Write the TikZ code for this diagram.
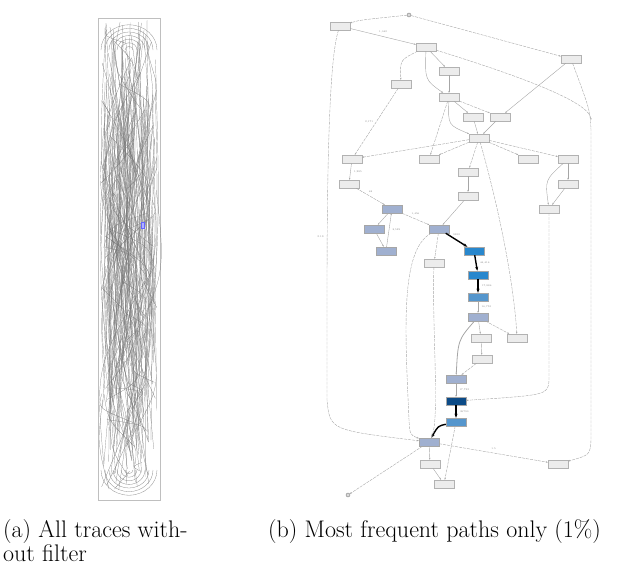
\documentclass[tikz,border=0pt]{standalone}
\usetikzlibrary{arrows.meta}
\begin{document}
\begin{tikzpicture}[x=1pt,y=-1pt,
 g/.style={draw=gray!60,fill=gray!15,minimum width=20pt,minimum height=8pt,inner sep=0pt},
 bg/.style={g,fill={rgb,255:red,160;green,176;blue,208},draw=gray!70},
 bb/.style={g,fill={rgb,255:red,40;green,135;blue,205},draw=gray!70},
 bl/.style={g,fill={rgb,255:red,85;green,150;blue,205},draw=gray!70},
 bd/.style={g,fill={rgb,255:red,12;green,75;blue,135},draw=gray!70},
 ci/.style={circle,draw=gray,fill=gray!30,minimum size=4pt,inner sep=0pt},
 e/.style={draw=gray!70,line width=0.4pt,-{Stealth[length=2pt]}},
 ed/.style={e,dash pattern=on 3pt off 1pt},
 eh/.style={draw=black,line width=1.4pt,-{Stealth[length=4pt]}},
 lb/.style={font=\fontsize{2.5}{3}\selectfont,text=gray},
 capt/.style={anchor=north west,align=left,font=\fontsize{24}{24}\selectfont,inner sep=0pt}]
\useasboundingbox (0,0) rectangle (640,568);
% ---------- panel (a)
\pgfmathsetseed{7}
\draw[gray!50,line width=0.4pt] (98,18) rectangle (160,500);
\foreach \i in {1,...,220}{
  \pgfmathsetmacro\ya{rnd*470+20}
  \pgfmathsetmacro\yb{rnd*470+20}
  \pgfmathsetmacro\xa{rnd*56+101}
  \pgfmathsetmacro\xb{rnd*56+101}
  \draw[black!55,line width=0.2pt] (\xa,\ya) .. controls (\xa+rnd*20-10,\ya*0.5+\yb*0.5) .. (\xb,\yb);
}
\foreach \r in {4,8,...,28}{
  \draw[black!45,line width=0.3pt] (129-\r,50) arc (180:360:\r pt and -\r*0.9 pt);
  \draw[black!45,line width=0.3pt] (129-\r,470) arc (180:0:\r pt and -\r*0.9 pt);
}
\node[draw=blue!60,fill=blue!30,minimum width=3pt,minimum height=6pt,inner sep=0pt] (ab) at (143,225) {};
% ---------- panel (b)
\node[ci] (st) at (409,15) {};
\node[ci] (en) at (348,495) {};
\node[g] (n1) at (340,26) {};
\node[g] (n2) at (426,47) {};
\node[g] (n3) at (571,59) {};
\node[g] (n4) at (449,71) {};
\node[g] (n5) at (401,84) {};
\node[g] (n6) at (449,97) {};
\node[g] (n7) at (473,117) {};
\node[g] (n8) at (500,117) {};
\node[g] (n9) at (479,138) {};
\node[g] (n10) at (352,159) {};
\node[g] (n11) at (429,159) {};
\node[g] (n12) at (528,159) {};
\node[g] (n13) at (568,159) {};
\node[g] (n14) at (468,172) {};
\node[g] (n15) at (349,184) {};
\node[g] (n16) at (568,184) {};
\node[g] (n17) at (468,196) {};
\node[g] (n18) at (549,209) {};
\node[bg] (b1) at (392,209) {};
\node[bg] (b2) at (374,229) {};
\node[bg] (b3) at (439,229) {};
\node[bg] (b4) at (386,251) {};
\node[bb] (c1) at (474,251) {};
\node[g] (n19) at (434,263) {};
\node[bb] (c2) at (478,275) {};
\node[bl] (c3) at (478,297) {};
\node[bg] (b5) at (478,317) {};
\node[g] (n20) at (481,338) {};
\node[g] (n21) at (517,338) {};
\node[g] (n22) at (482,359) {};
\node[bg] (b6) at (456,379) {};
\node[bd] (d1) at (456,401) {};
\node[bl] (c4) at (456,422) {};
\node[bg] (b7) at (429,442) {};
\node[g] (n23) at (430,464) {};
\node[g] (n24) at (558,464) {};
\node[g] (n25) at (444,484) {};
% edges
\draw[ed] (st) .. controls (360,20) .. (n1);
\draw[ed] (st) -- (n3);
\draw[e] (n1) -- node[lb,above]{1,043} (n2);
\draw[ed] (n2) .. controls (400,60) .. (n5);
\draw[e] (n2) -- (n4);
\draw[e] (n2) .. controls (425,80) .. (n6);
\draw[e] (n4) -- (n6);
\draw[ed] (n5) -- node[lb,left]{2,171} (n10);
\draw[e] (n6) -- (n7);
\draw[ed] (n6) -- (n8);
\draw[e] (n6) .. controls (448,125) .. (n9);
\draw[e] (n3) -- (n8);
\draw[e] (n7) -- (n9);
\draw[e] (n8) -- (n9);
\draw[ed] (n9) -- (n10);
\draw[ed] (n9) -- (n11);
\draw[ed] (n6) -- (n11);
\draw[ed] (n9) -- (n12);
\draw[ed] (n9) -- (n13);
\draw[ed] (n9) -- (n14);
\draw[e] (n14) -- (n17);
\draw[e] (n13) -- (n16);
\draw[e] (n10) -- node[lb,right]{1,285} (n15);
\draw[e] (n13) .. controls (545,180) .. (n18);
\draw[e] (n16) -- (n18);
\draw[ed] (n15) -- node[lb,above]{68} (b1);
\draw[e] (b1) -- (b2);
\draw[e] (b4) -- node[lb,right]{8,529} (b1);
\draw[e] (b2) -- (b4);
\draw[ed] (b1) -- node[lb,above]{1,456} (b3);
\draw[e] (n17) -- (b3);
\draw[eh] (b3) -- node[lb,above]{9953} (c1);
\draw[eh] (c1) -- node[lb,right]{44,416} (c2);
\draw[eh] (c2) -- node[lb,right]{17,886} (c3);
\draw[e,line width=0.8pt] (c3) -- node[lb,right]{16,755} (b5);
\draw[e] (b5) -- (n20);
\draw[ed] (b5) -- (n21);
\draw[e] (n20) -- (n22);
\draw[ed] (n22) -- (b6);
\draw[e,line width=0.8pt] (b5) .. controls (458,340) .. (b6);
\draw[e] (b6) -- node[lb,right]{17,722} (d1);
\draw[eh] (d1) -- node[lb,right]{36790} (c4);
\draw[eh] (c4) .. controls (438,426) .. (b7);
\draw[e] (b7) -- (n23);
\draw[ed] (c4) -- (n25);
\draw[e] (n23) -- (n25);
\draw[ed] (b7) -- node[lb,above]{1.5} (n24);
\draw[ed] (n3) .. controls (590,110) .. (591,130) -- (591,440) .. controls (590,455) .. (n24);
\draw[ed] (n2) .. controls (500,70) and (590,100) .. (591,120);
\draw[ed] (n18) -- (549,380) .. controls (548,395) .. (d1);
\draw[ed] (n9) .. controls (505,230) and (515,300) .. (n21);
\draw[ed] (n19) .. controls (432,330) and (440,420) .. (b7);
\draw[ed] (b3) .. controls (400,250) and (405,330) .. (409,420) .. controls (410,435) .. (b7);
\draw[ed] (n1) .. controls (328,60) and (327,200) .. node[lb,left,pos=0.8]{2.1S} (327,300) -- (327,400) .. controls (330,430) .. (b7);
\draw[ed] (b3) -- (n19);
\draw[ed] (b7) -- (en);
% captions
\node[capt] (ca) at (3,519) {(a) All traces with-\\out filter};
\node[capt] (cb) at (268,519) {(b) Most frequent paths only (1\%)};
\end{tikzpicture}
\end{document}
